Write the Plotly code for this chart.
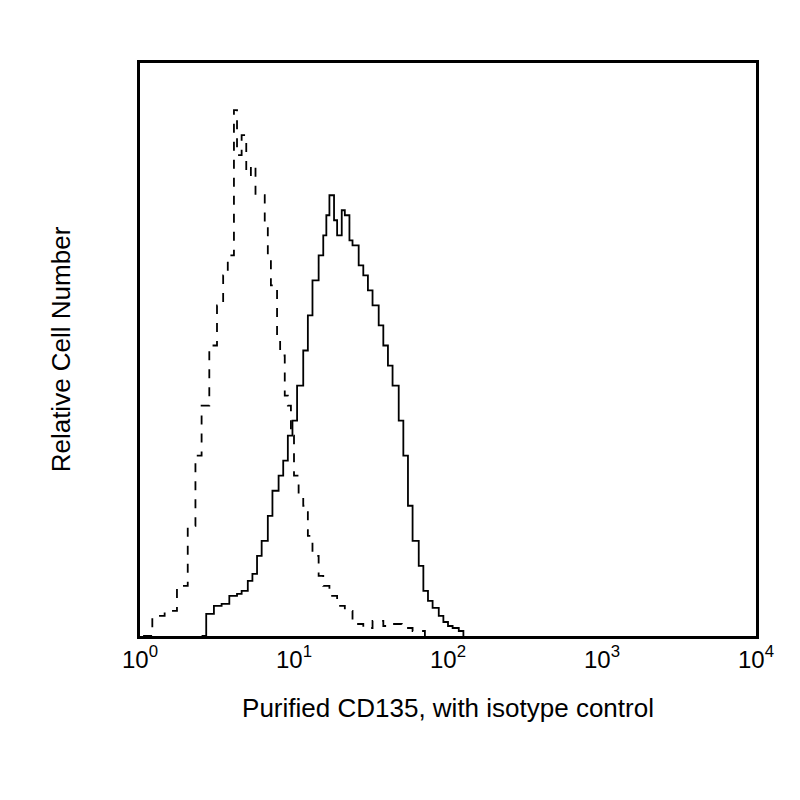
import plotly.graph_objects as go

# isotype control (dashed), log10 fluorescence vs relative count
iso_x = [0.02, 0.08, 0.16, 0.24, 0.31, 0.36, 0.40, 0.45, 0.50, 0.54, 0.57, 0.61, 0.63, 0.66, 0.69, 0.72, 0.75, 0.78, 0.81, 0.83, 0.85, 0.87, 0.89, 0.91, 0.94, 0.96, 0.98, 1.00, 1.03, 1.06, 1.09, 1.12, 1.16, 1.19, 1.23, 1.28, 1.33, 1.38, 1.45, 1.51, 1.58, 1.64, 1.70, 1.77, 1.85]
iso_y = [0, 20, 25, 50, 110, 180, 230, 290, 330, 360, 380, 525, 480, 500, 460, 470, 440, 440, 410, 380, 350, 350, 300, 280, 240, 230, 200, 160, 140, 130, 100, 80, 60, 50, 40, 30, 25, 12, 8, 15, 10, 12, 8, 5, 0]

# purified CD135 (solid)
cd_x = [0.40, 0.43, 0.48, 0.53, 0.58, 0.63, 0.66, 0.70, 0.73, 0.76, 0.79, 0.83, 0.86, 0.90, 0.93, 0.96, 0.99, 1.02, 1.06, 1.09, 1.12, 1.16, 1.19, 1.21, 1.23, 1.26, 1.28, 1.31, 1.33, 1.36, 1.38, 1.42, 1.45, 1.48, 1.51, 1.55, 1.58, 1.61, 1.64, 1.68, 1.71, 1.74, 1.77, 1.81, 1.84, 1.87, 1.90, 1.94, 1.97, 2.00, 2.03, 2.07, 2.10]
cd_y = [0, 22, 30, 32, 40, 42, 45, 55, 62, 80, 95, 120, 145, 160, 175, 200, 215, 250, 285, 320, 355, 380, 400, 420, 440, 415, 400, 425, 420, 395, 390, 370, 360, 345, 330, 310, 290, 270, 250, 215, 180, 130, 95, 70, 45, 35, 28, 20, 14, 10, 8, 5, 0]

tick_vals = [10**k for k in range(5)]
tick_text = ["10<sup>%d</sup>" % k for k in range(5)]

fig = go.Figure()
fig.add_trace(go.Scatter(x=[10**v for v in iso_x], y=iso_y, mode="lines", line_shape="hv",
                         line=dict(color="black", width=1.8, dash="dash")))
fig.add_trace(go.Scatter(x=[10**v for v in cd_x], y=cd_y, mode="lines", line_shape="hv",
                         line=dict(color="black", width=1.8)))

fig.update_layout(
    width=800, height=800, showlegend=False,
    plot_bgcolor="white", paper_bgcolor="white",
    margin=dict(l=132, r=52, t=55, b=172),
    font=dict(family="Liberation Sans, Arial", size=24, color="black"),
    xaxis=dict(type="log", range=[0, 4], tickvals=tick_vals, ticktext=tick_text,
               showgrid=False, zeroline=False, showline=True, mirror=True,
               linecolor="black", linewidth=2.5, ticks="",
               title=dict(text="Purified CD135, with isotype control", standoff=28,
                          font=dict(size=26))),
    yaxis=dict(range=[0, 572], showticklabels=False, showgrid=False, zeroline=False,
               showline=True, mirror=True, linecolor="black", linewidth=2.5, ticks="",
               title=dict(text="Relative Cell Number", standoff=60, font=dict(size=26))),
)

fig.write_html("out.html")
